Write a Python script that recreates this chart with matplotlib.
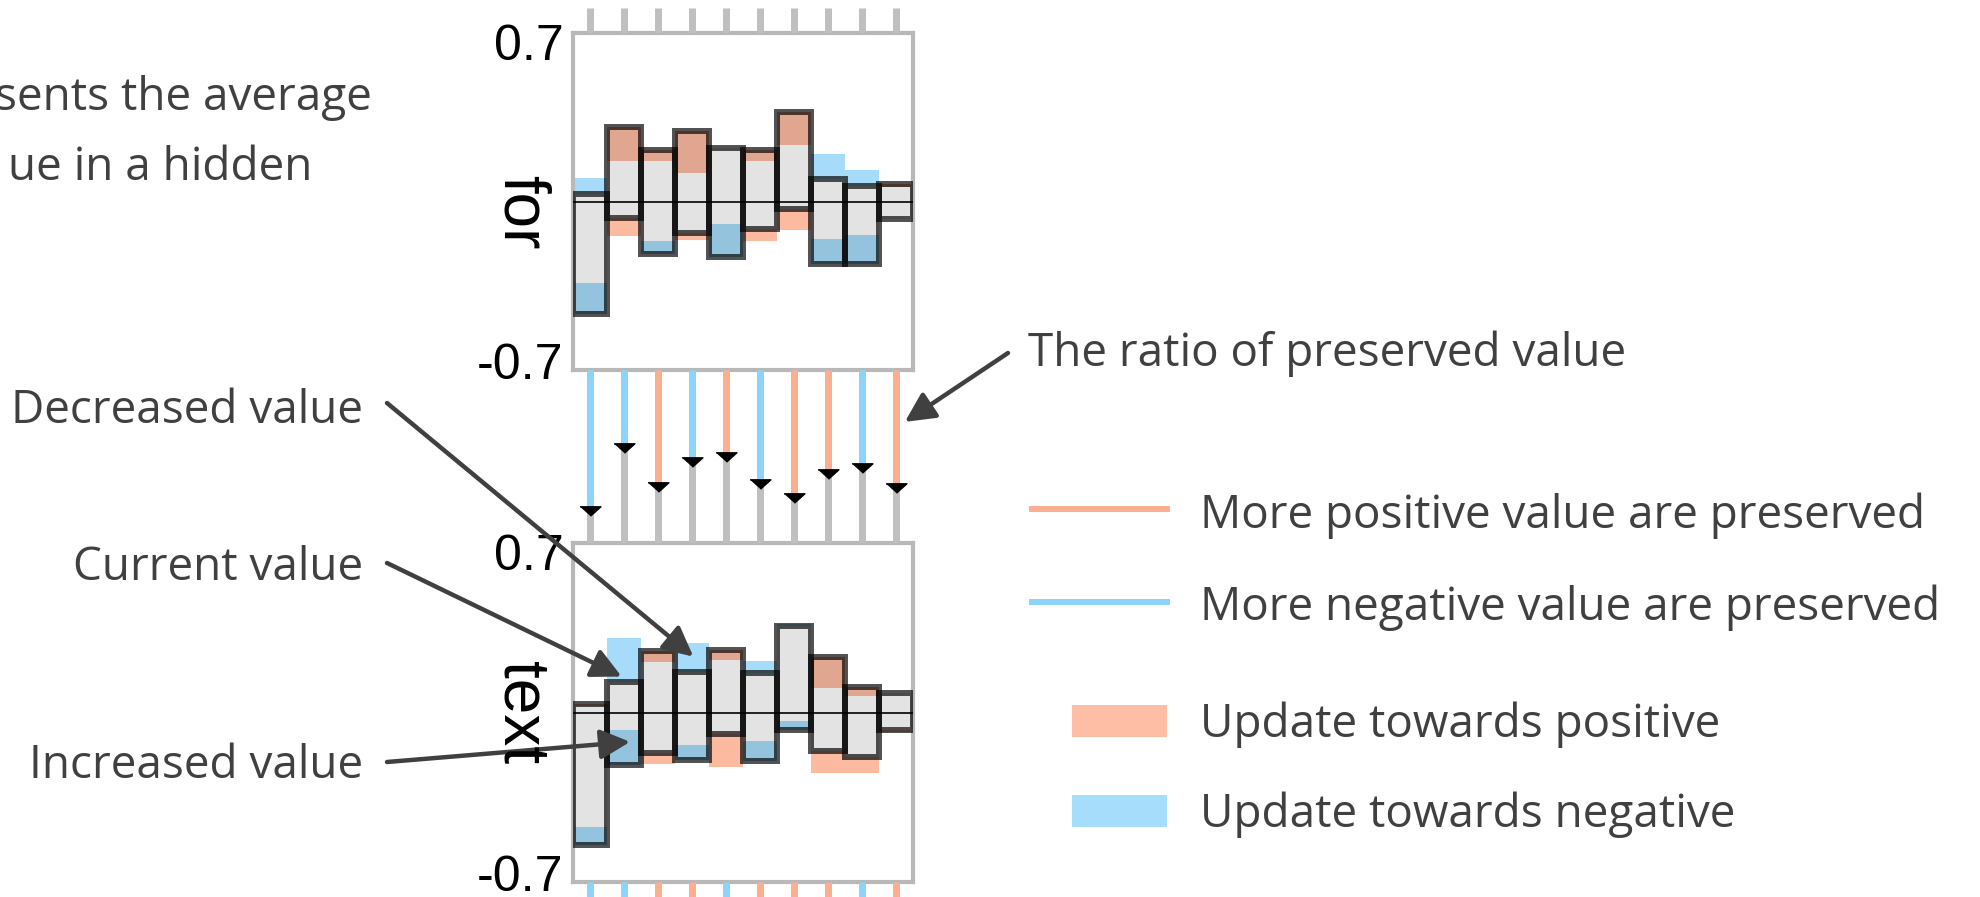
import numpy as np
import matplotlib
matplotlib.use("Agg")
import matplotlib.pyplot as plt
from matplotlib.lines import Line2D
from matplotlib.patches import Rectangle

# hidden-unit summaries for the two words: current and previous range ends
units = np.arange(10)

for_top_now = [0.035, 0.328, 0.227, 0.311, 0.235, 0.227, 0.395, 0.099, 0.070, 0.077]
for_top_prev = [0.104, 0.176, 0.176, 0.125, 0.235, 0.176, 0.248, 0.209, 0.139, 0.065]
for_bot_now = [-0.496, -0.071, -0.229, -0.137, -0.244, -0.120, -0.032, -0.273, -0.273, -0.079]
for_bot_prev = [-0.360, -0.152, -0.175, -0.171, -0.100, -0.174, -0.127, -0.163, -0.146, -0.079]

text_top_now = [0.038, 0.134, 0.270, 0.178, 0.273, 0.174, 0.378, 0.241, 0.112, 0.083]
text_top_prev = [0.030, 0.324, 0.222, 0.302, 0.229, 0.225, 0.385, 0.105, 0.073, 0.083]
text_bot_now = [-0.580, -0.230, -0.176, -0.209, -0.095, -0.213, -0.077, -0.169, -0.194, -0.077]
text_bot_prev = [-0.500, -0.077, -0.223, -0.143, -0.238, -0.125, -0.038, -0.264, -0.264, -0.085]

# preserved ratio between "for" and "text", and which side dominates
preserved_ratio = [0.813, 0.453, 0.675, 0.530, 0.501, 0.659, 0.742, 0.601, 0.568, 0.680]
preserved_side = ["neg", "neg", "pos", "neg", "pos", "neg", "pos", "pos", "neg", "pos"]
next_side = ["neg", "neg", "pos", "pos", "neg", "pos", "pos", "pos", "neg", "pos"]

words = ["for", "text"]
y_ticks = [-0.7, 0.7]
y_ticklabels = ["-0.7", "0.7"]

POS_LIGHT = "#fcbba1"
NEG_LIGHT = "#a6dcf9"
POS_LINE = "#fcae91"
NEG_LINE = "#8dd3fb"
GRID_GRAY = "#bfbfbf"
TEXT_GRAY = "#404040"

plt.rcParams["font.family"] = ["Open Sans", "DejaVu Sans"]

W, H = 1980, 897
fig = plt.figure(figsize=(W / 100, H / 100), dpi=100)


def fx(x):
    return x / W


def fy(y):
    return 1 - y / H


def draw_word(ax, top_now, top_prev, bot_now, bot_prev, label, label_y):
    top_now, top_prev = np.array(top_now), np.array(top_prev)
    bot_now, bot_prev = np.array(bot_now), np.array(bot_prev)
    for now, prev in ((top_now, top_prev), (bot_now, bot_prev)):
        colors = [POS_LIGHT if n > p else NEG_LIGHT for n, p in zip(now, prev)]
        ax.bar(units, prev - now, bottom=now, width=1, align="edge",
               color=colors, linewidth=0, zorder=1)
    ax.bar(units, top_now - bot_now, bottom=bot_now, width=1, align="edge",
           color=(0, 0, 0, 0.11), linewidth=0, zorder=2)
    ax.bar(units, top_now - bot_now, bottom=bot_now, width=1, align="edge",
           fill=False, edgecolor=(0, 0, 0, 0.68), linewidth=4.3, zorder=3)
    ax.axhline(0, color="black", lw=1.2, zorder=4)
    ax.set_xlim(0, 10)
    ax.set_ylim(-0.74, 0.74)
    ax.set_xticks([])
    ax.set_yticks(y_ticks, y_ticklabels)
    ax.tick_params(axis="y", length=0, pad=7, labelsize=36)
    for t in ax.get_yticklabels():
        t.set_family("Liberation Sans")
    for sp in ax.spines.values():
        sp.set_color("#b8b8b8")
        sp.set_linewidth(3)
    fig.text(fx(504), fy(label_y), label, rotation=-90, rotation_mode="anchor",
             ha="center", va="baseline", fontsize=46, family="Liberation Sans")


ax_top = fig.add_axes([fx(573), fy(370), 340 / W, 337 / H])
ax_bot = fig.add_axes([fx(573), fy(882), 340 / W, 339 / H])
draw_word(ax_top, for_top_now, for_top_prev, for_bot_now, for_bot_prev, words[0], 212.5)
draw_word(ax_bot, text_top_now, text_top_prev, text_bot_now, text_bot_prev, words[1], 712.5)

# connector between the two words
ax_mid = fig.add_axes([fx(573), fy(543), 340 / W, 173 / H])
ax_mid.set_xlim(0, 10)
ax_mid.set_ylim(1, 0)
ax_mid.axis("off")
xc = units + 0.5
side_color = {"pos": POS_LINE, "neg": NEG_LINE}
ax_mid.vlines(xc, 0, 1, color=GRID_GRAY, lw=5)
ax_mid.vlines(xc, 0, preserved_ratio, color=[side_color[s] for s in preserved_side], lw=5)
tri = [(-1, 0.45), (1, 0.45), (0, -0.45)]
ax_mid.plot(xc, preserved_ratio, linestyle="none", marker=tri, markersize=15,
            color="black")

# stubs of the neighbouring connectors
ax_above = fig.add_axes([fx(573), fy(33), 340 / W, 25 / H])
ax_above.set_xlim(0, 10)
ax_above.set_ylim(0, 1)
ax_above.axis("off")
ax_above.vlines(xc, 0, 1, color=GRID_GRAY, lw=5)

ax_below = fig.add_axes([fx(573), fy(897), 340 / W, 15 / H])
ax_below.set_xlim(0, 10)
ax_below.set_ylim(0, 1)
ax_below.axis("off")
ax_below.vlines(xc, 0, 1, color=[side_color[s] for s in next_side], lw=5)

# annotations
txt = dict(fontsize=33, color=TEXT_GRAY)
arrow = dict(arrowstyle="-|>,head_length=0.9,head_width=0.45", lw=3.2,
             color=TEXT_GRAY, mutation_scale=20, shrinkA=0, shrinkB=0)

fig.text(fx(372), fy(110), "sents the average", ha="right", va="baseline", **txt)
fig.text(fx(312), fy(180), "ue in a hidden", ha="right", va="baseline", **txt)

fig.text(fx(363), fy(423), "Decreased value", ha="right", va="baseline", **txt)
fig.text(fx(363), fy(580), "Current value", ha="right", va="baseline", **txt)
fig.text(fx(363), fy(778), "Increased value", ha="right", va="baseline", **txt)
ax_bot.annotate("", xy=(3.54, 0.244), xytext=(fx(387), fy(403)),
                textcoords="figure fraction", arrowprops=arrow, annotation_clip=False)
ax_bot.annotate("", xy=(1.43, 0.157), xytext=(fx(387), fy(563)),
                textcoords="figure fraction", arrowprops=arrow, annotation_clip=False)
ax_bot.annotate("", xy=(1.68, -0.128), xytext=(fx(387), fy(762)),
                textcoords="figure fraction", arrowprops=arrow, annotation_clip=False)

fig.text(fx(1028), fy(366), "The ratio of preserved value", ha="left", va="baseline", **txt)
ax_mid.annotate("", xy=(9.76, 0.30), xytext=(fx(1008), fy(353)),
                textcoords="figure fraction", arrowprops=arrow, annotation_clip=False)

# legend
fig.add_artist(Line2D([fx(1032), fx(1167)], [fy(509), fy(509)],
                      transform=fig.transFigure, color=POS_LINE, lw=4.3))
fig.add_artist(Line2D([fx(1032), fx(1167)], [fy(602), fy(602)],
                      transform=fig.transFigure, color=NEG_LINE, lw=4.3))
fig.add_artist(Rectangle((fx(1072), fy(737)), 95 / W, 32 / H,
                         transform=fig.transFigure, color="#fdbea5", lw=0))
fig.add_artist(Rectangle((fx(1072), fy(827)), 95 / W, 32 / H,
                         transform=fig.transFigure, color="#a6ddfb", lw=0))
fig.text(fx(1200), fy(528), "More positive value are preserved", va="baseline", **txt)
fig.text(fx(1200), fy(620), "More negative value are preserved", va="baseline", **txt)
fig.text(fx(1200), fy(737), "Update towards positive", va="baseline", **txt)
fig.text(fx(1200), fy(827), "Update towards negative", va="baseline", **txt)

fig.savefig("out.png", dpi=100)
